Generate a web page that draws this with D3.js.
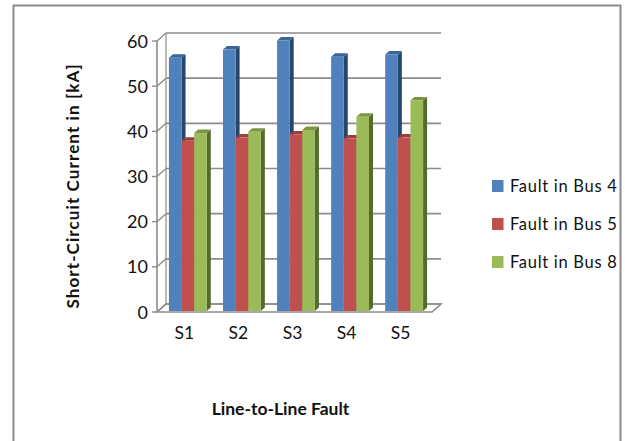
<!DOCTYPE html>
<html><head><meta charset="utf-8">
<script src="https://cdn.jsdelivr.net/npm/d3@7"></script>
<style>html,body{margin:0;padding:0;background:#fff}svg{display:block}text{font-family:Lato,"Open Sans",sans-serif;fill:#111}</style>
</head><body><svg id="c" width="625" height="441"></svg>
<script>
const categories = ["S1","S2","S3","S4","S5"];
const seriesNames = ["Fault in Bus 4","Fault in Bus 5","Fault in Bus 8"];
const bus4 = [56.2,58,60,56.4,56.9];
const bus5 = [37.8,38.5,39.2,38.3,38.5];
const bus8 = [39.5,39.8,40.2,43.1,46.7];
const yTicks = [0,10,20,30,40,50,60];
const seriesValues = [bus4,bus5,bus8];
const colors = [
  {front:"#4f81bd",side:"#27466c",top:"#3c6597"},
  {front:"#c0504d",side:"#7d2f2d",top:"#9d3e3b"},
  {front:"#9bbb59",side:"#56692f",top:"#7a9441"}
];
const svg = d3.select("#c");
const grey = "#8c8c8c";
svg.append("path").attr("d","M13.5,441V5.5H620.5V441").attr("fill","none").attr("stroke",grey).attr("stroke-width",2);

const y = d3.scaleLinear().domain([0,60]).range([312,41]);
const dx = 9, dy = -8;
const wallRight = 441;
const g = svg.append("g");
const d3path = d3.line();
g.append("path").attr("d",d3path([[157,y(0)],[wallRight-dx,y(0)],[wallRight,y(0)+dy],[157+dx,y(0)+dy]])+"Z")
  .attr("fill","#fff").attr("stroke",grey).attr("stroke-width",1.6);
yTicks.forEach(t=>{
  const yy = y(t);
  g.append("line").attr("x1",157+dx).attr("x2",wallRight).attr("y1",yy+dy).attr("y2",yy+dy).attr("stroke",grey).attr("stroke-width",1.6);
  g.append("line").attr("x1",157).attr("x2",157+dx).attr("y1",yy).attr("y2",yy+dy).attr("stroke",grey).attr("stroke-width",1.4);
  g.append("line").attr("x1",152).attr("x2",157).attr("y1",yy).attr("y2",yy).attr("stroke",grey).attr("stroke-width",1.4);
  svg.append("text").attr("x",148).attr("y",yy+6.5).attr("text-anchor","end").attr("font-size",18).text(t);
});
g.append("line").attr("x1",157).attr("x2",157).attr("y1",y(60)).attr("y2",y(0)).attr("stroke",grey).attr("stroke-width",1.6);
g.append("line").attr("x1",157+dx).attr("x2",157+dx).attr("y1",y(60)+dy).attr("y2",y(0)+dy).attr("stroke",grey).attr("stroke-width",1.2);

const x0 = d3.scaleBand().domain(categories).range([160,432]).paddingInner(0.3).paddingOuter(0.165);
const x1 = d3.scaleBand().domain(d3.range(3)).range([0,x0.bandwidth()]);
const ox = 4, oy = -3.5, base = y(0)-1;
categories.forEach((c,i)=>{
  const gg = svg.append("g").attr("transform",`translate(${x0(c)},0)`);
  seriesValues.forEach((vals,s)=>{
    const l = x1(s), r = l+x1.bandwidth(), t = y(vals[i])-0.5;
    gg.append("path").attr("fill",colors[s].side).attr("d",d3path([[r,t],[r+ox,t+oy],[r+ox,base+oy],[r,base]])+"Z");
    gg.append("path").attr("fill",colors[s].top).attr("d",d3path([[l,t],[l+ox,t+oy],[r+ox,t+oy],[r,t]])+"Z");
    gg.append("rect").attr("x",l).attr("y",t).attr("width",r-l).attr("height",base-t).attr("fill",colors[s].front);
  });
  svg.append("text").attr("x",x0(c)+x0.bandwidth()/2-3.5).attr("y",339).attr("text-anchor","middle").attr("font-size",17.5).text(c);
});

svg.append("text").attr("transform","translate(79,186) rotate(-90)").attr("text-anchor","middle")
  .attr("font-size",17).attr("font-weight","bold").attr("letter-spacing",1.1).text("Short-Circuit Current in [kA]");
svg.append("text").attr("x",280.5).attr("y",415).attr("text-anchor","middle")
  .attr("font-size",17.5).attr("font-weight","bold").text("Line-to-Line Fault");

const legY = d3.scalePoint().domain(seriesNames).range([186,262]);
seriesNames.forEach((n,s)=>{
  svg.append("rect").attr("x",492).attr("y",legY(n)-6).attr("width",11.5).attr("height",12).attr("fill",colors[s].front);
  svg.append("text").attr("x",510).attr("y",legY(n)+6).attr("font-size",16.5).attr("letter-spacing",0.7).text(n);
});
</script></body></html>
